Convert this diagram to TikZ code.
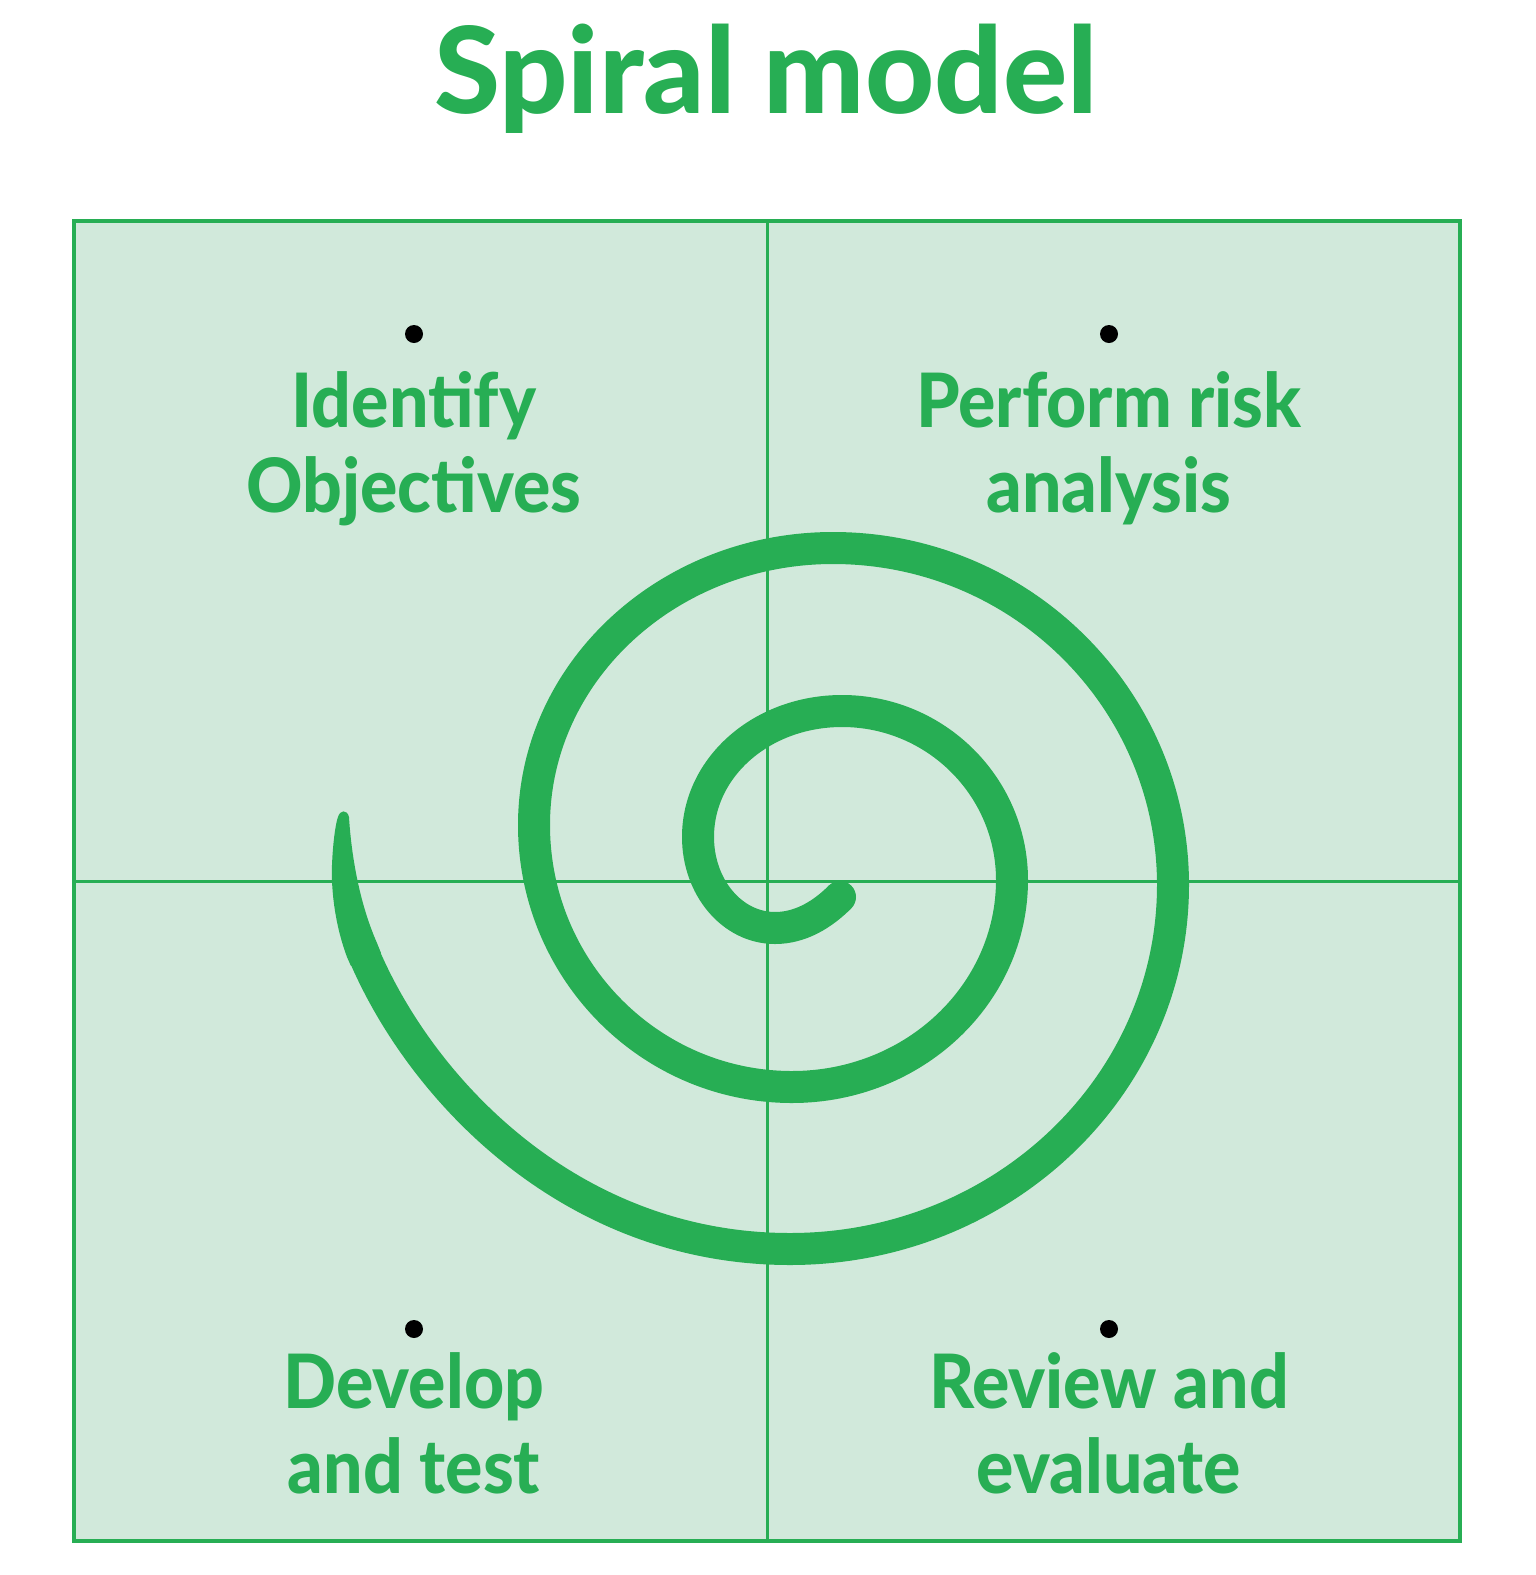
\documentclass[tikz,border=0pt]{standalone}
\usepackage{fontspec}
\setmainfont{Lato}[BoldFont={Lato Heavy}]
\newfontfamily\phasefont{Lato}[BoldFont={Lato Heavy}, FakeStretch=0.93]
\definecolor{spgreen}{RGB}{39,174,84}
\definecolor{sppale}{RGB}{209,233,219}
\tikzset{
  title/.style={text=spgreen, font=\fontsize{120}{130}\selectfont\bfseries, anchor=base},
  phase/.style={text=spgreen, font=\phasefont\fontsize{75}{85}\selectfont\bfseries, align=center, anchor=base},
  marker/.style={circle, fill=black, inner sep=0pt, minimum size=18pt},
  quad/.style={draw=spgreen, fill=sppale, line width=4pt},
  divider/.style={draw=spgreen, line width=3pt},
  spiral/.style={draw=spgreen, line width=32pt, line cap=butt},
}
\begin{document}
\begin{tikzpicture}[x=1pt,y=-1pt]
\useasboundingbox (0,0) rectangle (1535,1575);
\node[title] (title) at (766,113) {Spiral model};

\filldraw[quad] (74,221) rectangle (1460,1541);
\draw[divider] (767,221) -- (767,1541);
\draw[divider] (74,881) -- (1460,881);

\draw[spiral] (840,897) .. controls (822,915) and (800,928) .. (775,928)
  .. controls (732,928) and (698,887) .. (698,837)
  .. controls (698,767) and (762,711) .. (842,711)
  .. controls (936,711) and (1012,787) .. (1012,880)
  .. controls (1012,994) and (914,1087) .. (792,1087)
  .. controls (650,1087) and (534,970) .. (534,825)
  .. controls (534,672) and (668,548) .. (833,548)
  .. controls (1021,548) and (1173,699) .. (1173,885)
  .. controls (1173,1086) and (1002,1249) .. (790,1249)
  .. controls (570,1249) and (419,1088) .. (362,950);
% rounded inner end and tapered outer tail
\fill[spgreen] (840,897) circle[radius=16];
\fill[spgreen] (351,966) -- (347,957) .. controls (335,925) and (331,890) .. (332,865)
  .. controls (333,840) and (336,822) .. (338,817)
  .. controls (340,810) and (347,809) .. (349,817)
  .. controls (351,850) and (358,900) .. (377,943) -- (381,953) -- cycle;

\node[marker] (dotA) at (414,334) {};
\node[marker] (dotB) at (1109,334) {};
\node[marker] (dotC) at (414,1329) {};
\node[marker] (dotD) at (1109,1329) {};

\node[phase] (objectives) at (414,512) {Identify\\Objectives};
\node[phase] (risk) at (1109,512) {Perform risk\\analysis};
\node[phase] (develop) at (414,1493) {Develop\\and test};
\node[phase] (review) at (1109,1493) {Review and\\evaluate};
\end{tikzpicture}
\end{document}
